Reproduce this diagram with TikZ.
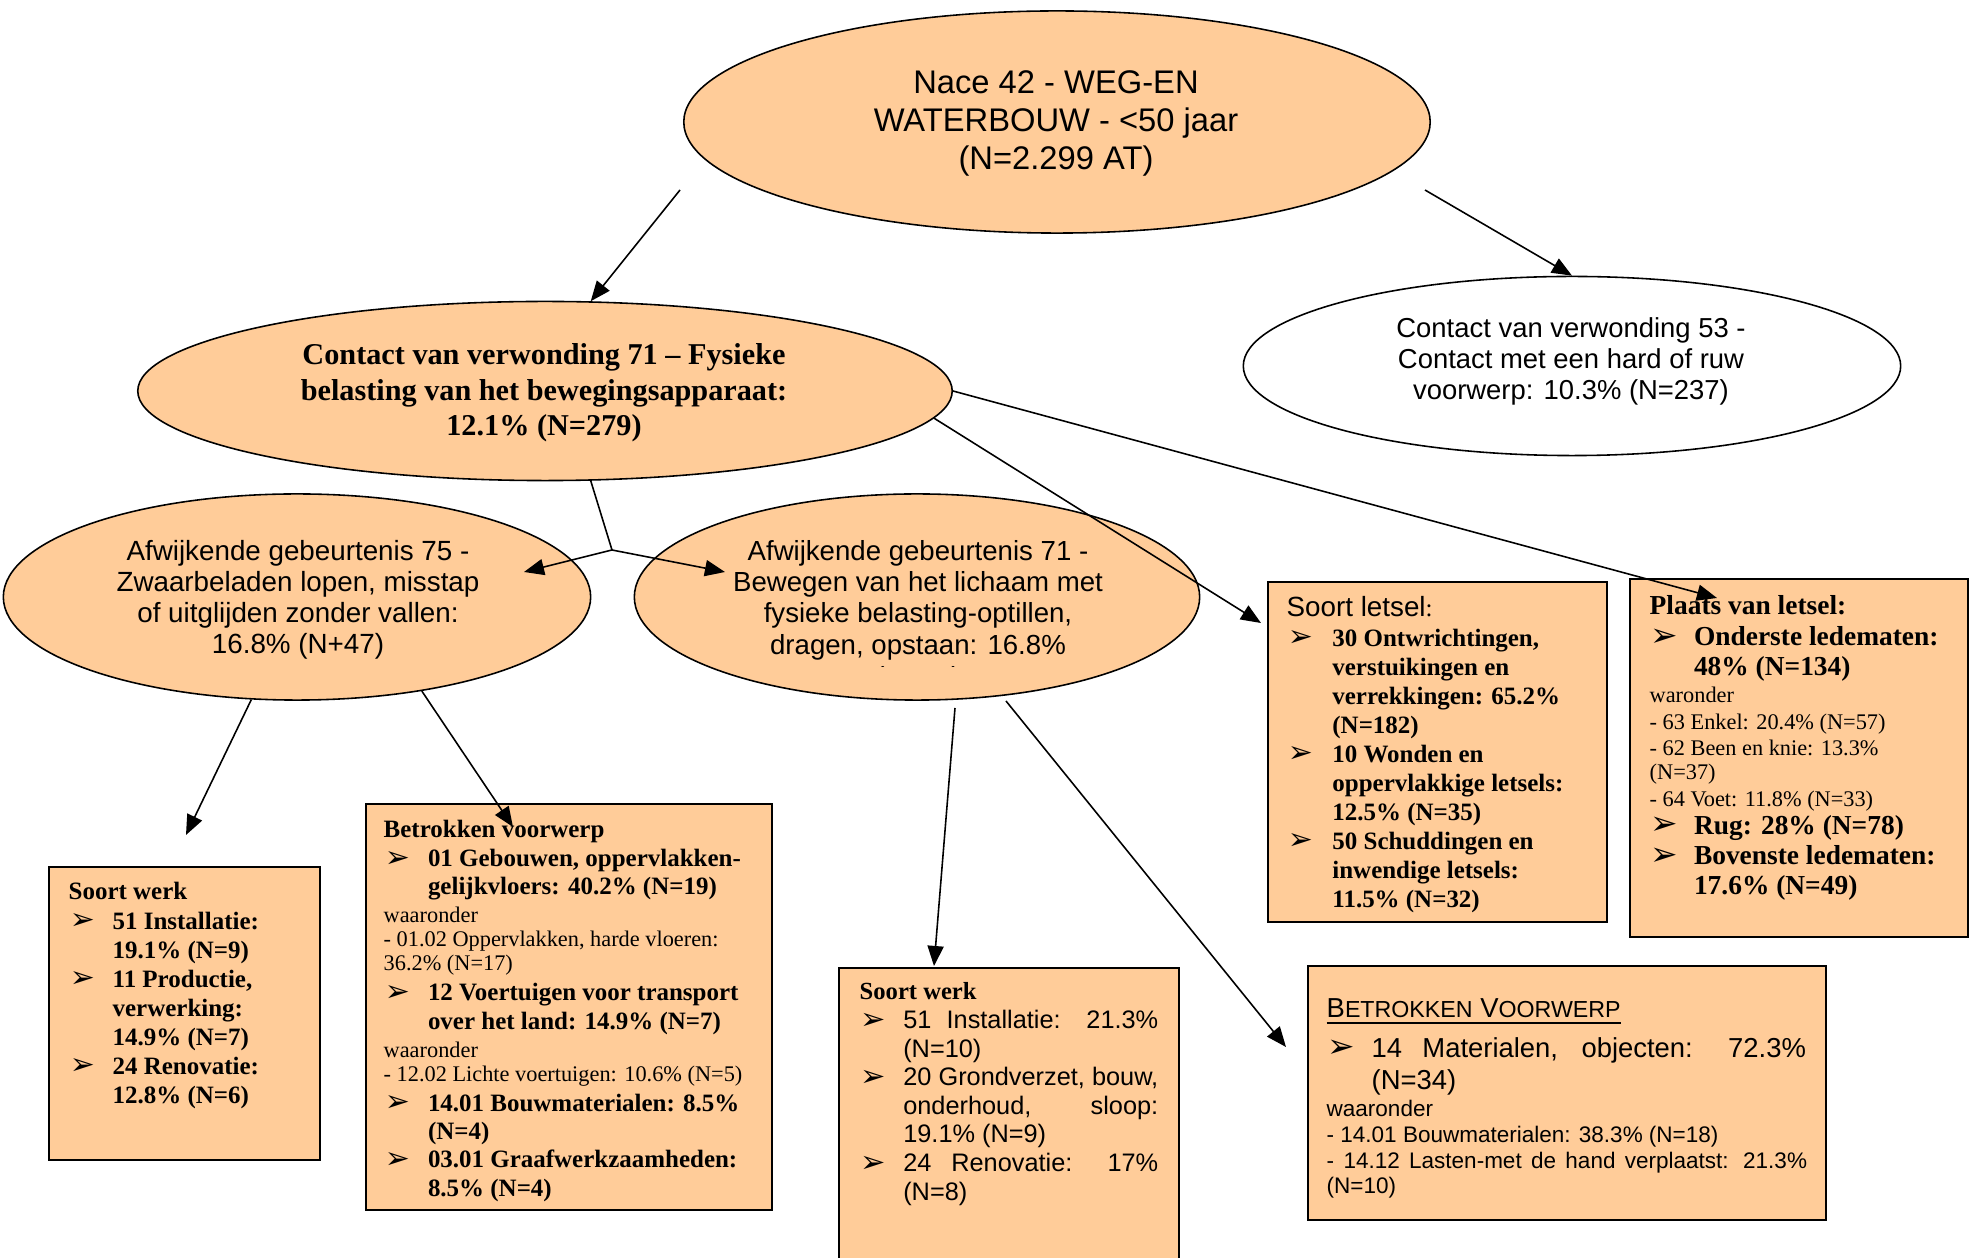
\documentclass[tikz,border=0pt]{standalone}
\usepackage{graphicx}
\usepackage{fontspec}
\setmainfont{Liberation Serif}
\newfontfamily\arial{Liberation Sans}
\newfontfamily\dingfont{DejaVu Sans}
\usetikzlibrary{shapes.geometric,arrows.meta}
\definecolor{peach}{HTML}{FFCC99}
\setlength\parindent{0pt}
\setlength\parskip{0pt}
\setlength\lineskiplimit{-100pt}

% one line of box text in the node's current font; #1 = baselineskip in pt
\newcommand\lnR[2]{{\spaceskip=0pt\xspaceskip=0pt\fontsize{\fsz}{#1}\selectfont\hbox{#2}\par}}
% a bulleted line and its continuation lines, indented by \ind
\newcommand\arrowbul{\raisebox{-0.2pt}{\scalebox{1.2}{\dingfont ➢}}}
\newcommand\lnB[2]{\lnR{#1}{\makebox[\ind][l]{\hspace{0.3pt}\arrowbul}#2}}
\newcommand\lnC[2]{\lnR{#1}{\hspace*{\ind}#2}}
% a small line in regular weight
\newcommand\lnS[2]{{\spaceskip=0pt\xspaceskip=0pt\mdseries\fontsize{\ssz}{#1}\selectfont\hbox{#2}\par}}

\begin{document}
\begin{tikzpicture}[x=0.01cm,y=-0.01cm,
  ell/.style={ellipse, draw, line width=0.45pt, inner sep=0pt, fill=peach},
  box/.style={draw, line width=0.6pt, fill=peach, inner sep=0pt, anchor=north west},
  txt/.style={inner sep=0pt, anchor=base west, align=left},
  etxt/.style={inner sep=0pt, align=center},
  arr/.style={line width=0.45pt, -{Triangle[length=5.7pt,width=4.6pt]}},
  con/.style={line width=0.45pt}]

\useasboundingbox (0,0) rectangle (1971,1258);
\fill[white] (0,0) rectangle (1971,1258);

% ellipses
\node[ell, minimum width=7.46cm, minimum height=2.22cm] (top) at (1057,122) {};
\node[ell, fill=white, minimum width=6.57cm, minimum height=1.79cm] (c53) at (1572,366) {};
\node[ell, minimum width=8.14cm, minimum height=1.79cm] (c71) at (545,391) {};
\node[ell, minimum width=5.87cm, minimum height=2.06cm] (a75) at (297,597) {};
\node[ell, minimum width=5.65cm, minimum height=2.06cm] (a71) at (917,597) {};

% ellipse texts
\node[etxt, font=\arial\fontsize{9.3}{10.7}\selectfont] (topt) at (1056,123.5)
  {Nace 42 - WEG-EN\\WATERBOUW - <50 jaar\\(N=2.299 AT)};
\node[etxt, font=\arial\fontsize{7.8}{8.8}\selectfont] (c53t) at (1571,361)
  {Contact van verwonding 53 -\\Contact met een hard of ruw\\voorwerp: 10.3\% (N=237)};
\node[etxt, font=\bfseries\fontsize{8.6}{10.1}\selectfont] (c71t) at (544,393)
  {Contact van verwonding 71 – Fysieke\\belasting van het bewegingsapparaat:\\12.1\% (N=279)};
\node[etxt, font=\arial\fontsize{7.9}{8.85}\selectfont] (a75t) at (298,599.5)
  {Afwijkende gebeurtenis 75 -\\Zwaarbeladen lopen, misstap\\of uitglijden zonder vallen:\\16.8\% (N+47)};
\node[etxt, font=\arial\fontsize{7.85}{8.9}\selectfont] (a71t) at (918,600)
  {Afwijkende gebeurtenis 71 -\\Bewegen van het lichaam met\\fysieke belasting-optillen,\\dragen, opstaan: 16.8\%};
\begin{scope}
  \clip (800,640) rectangle (1040,667);
  \node[etxt, font=\arial\fontsize{7.85}{8.9}\selectfont] (a71n) at (918,679.5) {(N=47)};
\end{scope}

% boxes
\node[box, minimum width=2.71cm, minimum height=2.93cm] (sw1) at (48,866) {};
\node[box, minimum width=4.06cm, minimum height=4.06cm] (bv1) at (365,803) {};
\node[box, minimum width=3.40cm, minimum height=3.10cm] (sw2) at (838,967) {};
\node[box, minimum width=5.18cm, minimum height=2.54cm] (bv2) at (1307,965) {};
\node[box, minimum width=3.39cm, minimum height=3.40cm] (sl) at (1267,581) {};
\node[box, minimum width=3.38cm, minimum height=3.58cm] (pl) at (1629,578) {};

% box texts
\node[txt, text width=2.45cm] (sw1t) at (68,900) {\bfseries\def\fsz{7.1}\def\ind{12.5pt}%
\lnR{8.25}{Soort werk}%
\lnB{8.25}{51 Installatie:}%
\lnC{8.25}{19.1\% (N=9)}%
\lnB{8.25}{11 Productie,}%
\lnC{8.25}{verwerking:}%
\lnC{8.25}{14.9\% (N=7)}%
\lnB{8.25}{24 Renovatie:}%
\lnC{8.25}{12.8\% (N=6)}};

\node[txt, text width=3.8cm] (bv1t) at (383,838) {\bfseries\def\fsz{7.1}\def\ind{12.6pt}\def\ssz{6.35}%
\lnR{8.05}{Betrokken voorwerp}%
\lnB{8.05}{01 Gebouwen, oppervlakken-}%
\lnC{8.05}{gelijkvloers: 40.2\% (N=19)}%
\lnS{7.97}{waaronder}%
\lnS{6.83}{- 01.02 Oppervlakken, harde vloeren:}%
\lnS{6.83}{36.2\% (N=17)}%
\lnB{8.54}{12 Voertuigen voor transport}%
\lnC{8.05}{over het land: 14.9\% (N=7)}%
\lnS{7.97}{waaronder}%
\lnS{6.83}{- 12.02 Lichte voertuigen: 10.6\% (N=5)}%
\lnB{8.54}{14.01 Bouwmaterialen: 8.5\%}%
\lnC{8.05}{(N=4)}%
\lnB{8.05}{03.01 Graafwerkzaamheden:}%
\lnC{8.05}{8.5\% (N=4)}};

\node[txt, text width=3.1cm] (sw2t) at (859,1000) {\def\fsz{7.2}\def\ind{12.4pt}\def\jw{72.5pt}%
{\spaceskip=0pt\xspaceskip=0pt\bfseries\fontsize{7}{8.13}\selectfont\hbox{Soort werk}\par}%
\arial%
\lnB{8.13}{\makebox[\jw][s]{51 Installatie: 21.3\%}}%
\lnC{8.13}{(N=10)}%
\lnB{8.13}{\makebox[\jw][s]{20 Grondverzet, bouw,}}%
\lnC{8.13}{\makebox[\jw][s]{onderhoud, sloop:}}%
\lnC{8.13}{19.1\% (N=9)}%
\lnB{8.13}{\makebox[\jw][s]{24 Renovatie: 17\%}}%
\lnC{8.13}{(N=8)}};

\node[txt, text width=4.9cm] (bv2t) at (1326,1018) {\arial\def\fsz{7.8}\def\ind{12.8pt}\def\ssz{6.4}%
\lnR{8}{\underline{B{\fontsize{6.6}{8}\selectfont ETROKKEN} V{\fontsize{6.6}{8}\selectfont OORWERP}}}%
\lnB{11.1}{\makebox[123.5pt][s]{14 Materialen, objecten: 72.3\%}}%
\lnC{9.1}{(N=34)}%
\lnS{7.68}{waaronder}%
\lnS{7.4}{- 14.01 Bouwmaterialen: 38.3\% (N=18)}%
\lnS{7.4}{\makebox[136.6pt][s]{- 14.12 Lasten-met de hand verplaatst: 21.3\%}}%
\lnS{7.1}{(N=10)}};

\node[txt, text width=3.1cm] (slt) at (1286,617) {\bfseries\def\fsz{7.1}\def\ind{13pt}%
\lnR{8.25}{{\arial\mdseries\fontsize{7.9}{8.25}\selectfont Soort letsel}{\mdseries:}}%
\lnB{8.25}{30 Ontwrichtingen,}%
\lnC{8.25}{verstuikingen en}%
\lnC{8.25}{verrekkingen: 65.2\%}%
\lnC{8.25}{(N=182)}%
\lnB{8.25}{10 Wonden en}%
\lnC{8.25}{oppervlakkige letsels:}%
\lnC{8.25}{12.5\% (N=35)}%
\lnB{8.25}{50 Schuddingen en}%
\lnC{8.25}{inwendige letsels:}%
\lnC{8.25}{11.5\% (N=32)}};

\node[txt, text width=3.1cm] (plt) at (1649,615) {\bfseries\def\fsz{7.8}\def\ind{12.6pt}\def\ssz{6.35}%
\lnR{8.8}{Plaats van letsel:}%
\lnB{8.8}{Onderste ledematen:}%
\lnC{8.54}{48\% (N=134)}%
\lnS{7.68}{waronder}%
\lnS{7.4}{- 63 Enkel: 20.4\% (N=57)}%
\lnS{7.4}{- 62 Been en knie: 13.3\%}%
\lnS{7.1}{(N=37)}%
\lnS{7.4}{- 64 Voet: 11.8\% (N=33)}%
\lnB{7.97}{Rug: 28\% (N=78)}%
\lnB{8.8}{Bovenste ledematen:}%
\lnC{8.25}{17.6\% (N=49)}};

% connectors
\coordinate (p1) at (680,190);
\coordinate (p2) at (1425,190);
\coordinate (jn) at (612,550);
\coordinate (q1) at (524,572);
\coordinate (q2) at (725,572);
\coordinate (q3) at (1261,623);
\coordinate (q4) at (1717,598);
\coordinate (q5) at (186,835);
\coordinate (q6) at (513,827);
\coordinate (p7) at (955,708);
\coordinate (q7) at (934,966);
\coordinate (p8) at (1006,701);
\coordinate (q8) at (1286,1047);

\draw[arr] (p1) -- (c71.63);
\draw[arr] (p2) -- (c53.north);
\draw[con] (c71.-63) -- (jn);
\draw[arr] (jn) -- (q1);
\draw[arr] (jn) -- (q2);
\draw[arr] (c71.-4) -- (q3);
\draw[arr] (c71.east) -- (q4);
\draw[arr] (a75.-114) -- (q5);
\draw[arr] (a75.-37) -- (q6);
\draw[arr] (p7) -- (q7);
\draw[arr] (p8) -- (q8);
\end{tikzpicture}
\end{document}
